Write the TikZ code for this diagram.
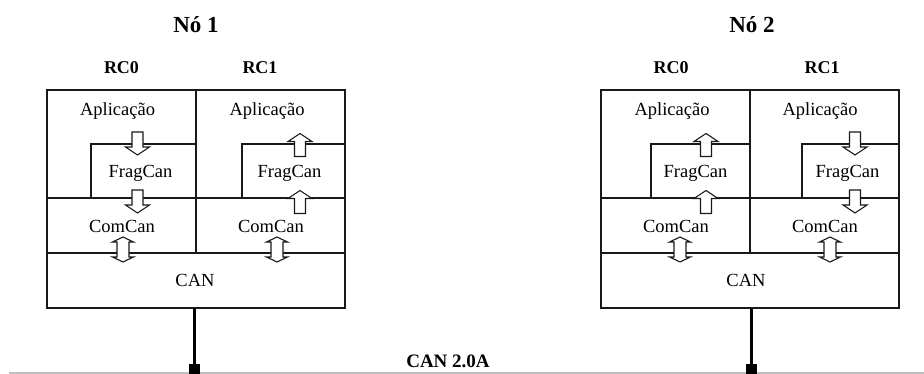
\documentclass[tikz,border=0pt]{standalone}
\usepackage{fontspec}
\setmainfont{Liberation Serif}
\usepackage{tikz}
\usetikzlibrary{positioning,calc}

\tikzset{
    flowdown/.pic={\draw[flowline] (-5.5,-11.5) -- (5.5,-11.5) -- (5.5,3.5) -- (12,3.5) -- (0,11.5) -- (-12,3.5) -- (-5.5,3.5) -- cycle;},
    flowup/.pic={\draw[flowline] (-5.5,11.5) -- (5.5,11.5) -- (5.5,-3.5) -- (12,-3.5) -- (0,-11.5) -- (-12,-3.5) -- (-5.5,-3.5) -- cycle;},
    flowboth/.pic={\draw[flowline] (-6,-7.5) -- (-10.5,-7.5) -- (0,-12.5) -- (10.5,-7.5) -- (6,-7.5) -- (6,7.5) -- (10.5,7.5) -- (0,12.5) -- (-10.5,7.5) -- (-6,7.5) -- cycle;}
}

\begin{document}
\begin{tikzpicture}[
    x=1pt, y=-1pt,
    frame/.style={draw=black!90, line width=1.5pt},
    flowline/.style={draw=black!90, fill=white, line width=1.1pt, line join=miter},
    layer/.style={font=\fontsize{18.5}{20}\selectfont, anchor=base, inner sep=0pt},
    rclabel/.style={font=\bfseries\fontsize{18}{20}\selectfont, anchor=base, inner sep=0pt},
    title/.style={font=\bfseries\fontsize{23}{26}\selectfont, anchor=base, inner sep=0pt},
    stub/.style={draw=black, line width=3pt},
    tap/.style={rectangle, fill=black, minimum width=11pt, minimum height=10pt, inner sep=0pt},
    bus/.style={draw=black!25, line width=1.5pt}]

    \useasboundingbox (0,0) rectangle (924,374);

    % Barramento
    \coordinate (busL) at (9,373);
    \coordinate (busR) at (924,373);
    \draw[bus] (busL) -- (busR);
    \node[title, font=\bfseries\fontsize{19}{21}\selectfont] (busname) at (448,367) {CAN 2.0A};

    % No 1
    \node[title] (n1) at (196,33) {Nó 1};
    \node[rclabel] (n1rc0) at (121.5,74) {RC0};
    \node[rclabel] (n1rc1) at (260,74) {RC1};
    \draw[frame] (47,90) rectangle (345,308);
    \draw[frame] (47,253) -- (345,253);
    \draw[frame] (47,198) -- (345,198);
    \draw[frame] (196,90) -- (196,253);
    \draw[frame] (91,198) |- (196,144);
    \draw[frame] (242,198) |- (345,144);
    \node[layer] (n1app0) at (117.5,116) {Aplicação};
    \node[layer] (n1app1) at (267,116) {Aplicação};
    \node[layer] (n1frag0) at (140.5,178) {FragCan};
    \node[layer] (n1frag1) at (289.5,178) {FragCan};
    \node[layer] (n1com0) at (122,233) {ComCan};
    \node[layer] (n1com1) at (271,233) {ComCan};
    \node[layer] (n1can) at (195,287) {CAN};
    \pic at (137.5,143.5) {flowdown};
    \pic at (137.5,201.5) {flowdown};
    \pic at (300,145) {flowup};
    \pic at (300,202) {flowup};
    \pic at (123,249.5) {flowboth};
    \pic at (277,249.5) {flowboth};
    \coordinate (n1base) at (194.5,308);
    \node[tap] (n1tap) at (194.5,369) {};
    \draw[stub] (n1base) -- (n1tap.north);

    % No 2
    \node[title] (n2) at (752,33) {Nó 2};
    \node[rclabel] (n2rc0) at (671,74) {RC0};
    \node[rclabel] (n2rc1) at (822,74) {RC1};
    \draw[frame] (601,90) rectangle (899,308);
    \draw[frame] (601,253) -- (899,253);
    \draw[frame] (601,198) -- (899,198);
    \draw[frame] (750,90) -- (750,253);
    \draw[frame] (651,198) |- (750,144);
    \draw[frame] (802,198) |- (899,144);
    \node[layer] (n2app0) at (672,116) {Aplicação};
    \node[layer] (n2app1) at (820,116) {Aplicação};
    \node[layer] (n2frag0) at (695.5,178) {FragCan};
    \node[layer] (n2frag1) at (847.5,178) {FragCan};
    \node[layer] (n2com0) at (676,233) {ComCan};
    \node[layer] (n2com1) at (825,233) {ComCan};
    \node[layer] (n2can) at (746,287) {CAN};
    \pic at (706,145) {flowup};
    \pic at (706,202) {flowup};
    \pic at (855,143.5) {flowdown};
    \pic at (855,201.5) {flowdown};
    \pic at (680,249.5) {flowboth};
    \pic at (830,249.5) {flowboth};
    \coordinate (n2base) at (751,308);
    \node[tap] (n2tap) at (751,369) {};
    \draw[stub] (n2base) -- (n2tap.north);
\end{tikzpicture}
\end{document}
